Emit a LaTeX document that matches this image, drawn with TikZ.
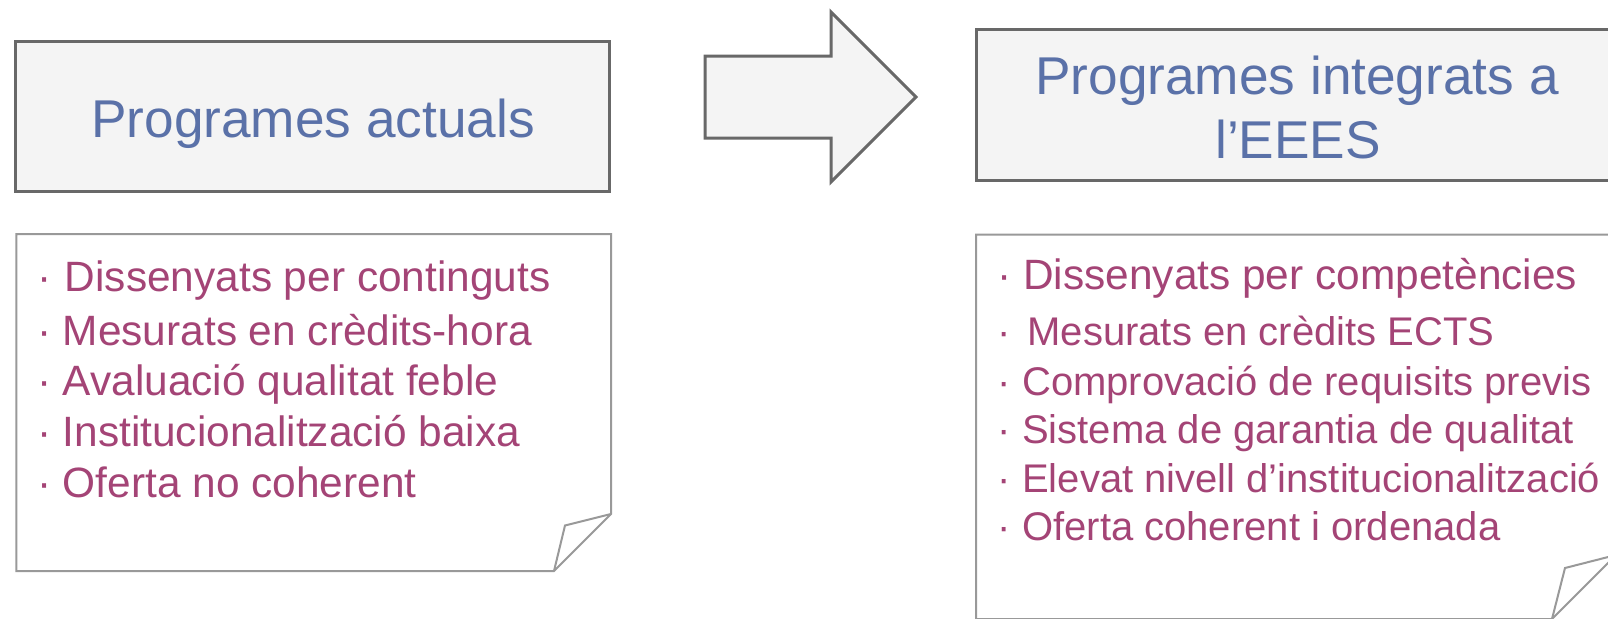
\documentclass[tikz,border=0pt]{standalone}
\usepackage{fontspec}
\setmainfont{Liberation Sans}
\definecolor{titleblue}{RGB}{90,113,168}
\definecolor{itemmag}{RGB}{164,68,118}
\definecolor{boxedge}{RGB}{104,104,104}
\definecolor{noteedge}{RGB}{153,153,153}
\definecolor{boxfill}{RGB}{244,244,244}
\begin{document}
\begin{tikzpicture}[x=0.5pt,y=-0.5pt,
  titlebox/.style={draw=boxedge,fill=boxfill,line width=1.5pt,inner sep=0pt,outer sep=0pt},
  blockarrow/.style={draw=boxedge,fill=boxfill,line width=1.5pt,line join=miter},
  notebox/.style={draw=noteedge,fill=white,line width=1pt,line join=miter},
  foldline/.style={draw=noteedge,line width=1pt,line join=miter},
  titletext/.style={text=titleblue,font=\fontsize{26.6pt}{32pt}\selectfont,inner sep=0pt,anchor=base},
  itemtext/.style={text=itemmag,font=\fontsize{21.2pt}{25pt}\selectfont,inner sep=0pt,anchor=base west},
  itemsmall/.style={itemtext,font=\fontsize{20pt}{24pt}\selectfont},
]
\useasboundingbox (0,0) rectangle (1608,618);
\clip (0,0) rectangle (1608,618);
\fill[white] (0,0) rectangle (1608,618);

% title boxes
\node[titlebox,minimum width=296.8pt,minimum height=75pt] (lbox) at (312.2,116) {};
\node[titlebox,minimum width=320pt,minimum height=75.2pt] (rbox) at (1296,104.8) {};

% block arrow
\draw[blockarrow] (705,56) -- (831,56) -- (831,12) -- (916,97) -- (831,182) -- (831,138) -- (705,138) -- cycle;

% note boxes with folded corner
\draw[notebox] (16.4,234) -- (611,234) -- (611,514) -- (554,571) -- (16.4,571) -- cycle;
\draw[foldline] (554,571) -- (565,525.5) -- (611,514);
\draw[notebox] (976,234.5) -- (1616,234.5) -- (1616,555) -- (1552,619) -- (976,619) -- cycle;
\draw[foldline] (1552,619) -- (1565,568) -- (1616,555);

% titles
\node[titletext] (ltitle) at (313,137.5) {Programes actuals};
\node[titletext] (rtitle1) at (1297,94) {Programes integrats a};
\node[titletext] (rtitle2) at (1298,158) {l’EEES};

% left items
\node[itemtext] (l1) at (36.6,291.5) {·\hspace{1pt} Dissenyats per continguts};
\node[itemtext] (l2) at (36.6,345.5) {· Mesurats en crèdits-hora};
\node[itemtext] (l3) at (36.6,395.5) {· Avaluació qualitat feble};
\node[itemtext] (l4) at (36.6,446.5) {· Institucionalització baixa};
\node[itemtext] (l5) at (36.6,497.5) {· Oferta no coherent};

% right items
\node[itemtext] (r1) at (997,289) {· Dissenyats per competències};
\node[itemsmall] (r2) at (997.4,345) {·\hspace{2.7pt} Mesurats en crèdits ECTS};
\node[itemsmall] (r3) at (997.4,395.5) {· Comprovació de requisits previs};
\node[itemsmall] (r4) at (997.4,443.5) {· Sistema de garantia de qualitat};
\node[itemsmall] (r5) at (997.4,492) {· Elevat nivell d’institucionalització};
\node[itemsmall] (r6) at (997.4,540) {· Oferta coherent i ordenada};
\end{tikzpicture}
\end{document}
